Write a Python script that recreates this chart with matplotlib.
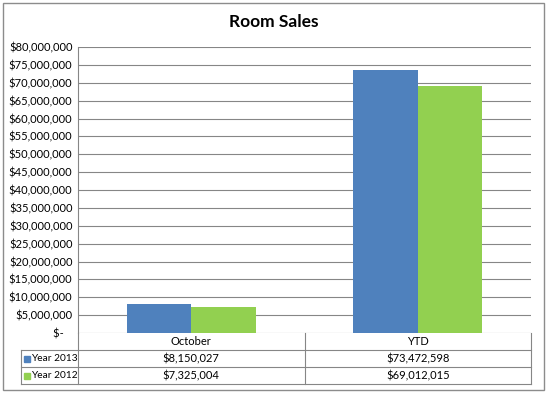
import numpy as np
import matplotlib
matplotlib.use('Agg')
import matplotlib.pyplot as plt
from matplotlib.patches import Rectangle
from matplotlib.lines import Line2D
from matplotlib.ticker import FuncFormatter

plt.rcParams['font.family'] = ['Lato', 'DejaVu Sans']

categories = ['October', 'YTD']
series_names = ['Year 2013', 'Year 2012']
year_2013 = [8150027, 73472598]
year_2012 = [7325004, 69012015]
colors = ['#4F81BD', '#92D050']
grid_col = '#868686'

fig = plt.figure(figsize=(5.48, 3.93), dpi=100)
ax = fig.add_axes([78 / 548, 1 - 333 / 393, 453 / 548, 286 / 393])

x = np.arange(len(categories))
w = 0.285
ax.bar(x - w / 2, year_2013, w, color=colors[0], zorder=3)
ax.bar(x + w / 2, year_2012, w, color=colors[1], zorder=3)

ax.set_xlim(-0.5, len(categories) - 0.5)
ax.set_ylim(0, 80e6)
ax.set_yticks(np.arange(0, 80e6 + 1, 5e6))
ax.yaxis.set_major_formatter(
    FuncFormatter(lambda v, p: '$-   ' if v == 0 else f'${v:,.0f}'))
ax.grid(axis='y', color=grid_col, lw=0.8)
ax.set_axisbelow(True)
for s in ['top', 'right', 'bottom']:
    ax.spines[s].set_visible(False)
ax.spines['left'].set_color(grid_col)
ax.spines['left'].set_linewidth(0.8)
ax.set_xticks([])
ax.tick_params(axis='y', length=0, pad=4, labelsize=8)

# data table under the plot
rh = 17 / 286
x0 = (21 - 78) / 453
lkw = dict(color=grid_col, lw=0.8, transform=ax.transAxes, clip_on=False)
for k in range(1, 4):
    ax.add_line(Line2D([x0, 1], [-k * rh, -k * rh], **lkw))
ax.add_line(Line2D([x0, x0], [-rh, -3 * rh], **lkw))
for xv in [0, 0.5, 1]:
    ax.add_line(Line2D([xv, xv], [0, -3 * rh], **lkw))

xt = ax.get_xaxis_transform()
series = [year_2013, year_2012]
for i, cat in enumerate(categories):
    ax.text(i, -0.5 * rh, cat, transform=xt, ha='center', va='center', fontsize=8)
    for r, vals in enumerate(series):
        ax.text(i, -(r + 1.5) * rh, f'${vals[i]:,.0f}', transform=xt,
                ha='center', va='center', fontsize=8)

for r, name in enumerate(series_names):
    yc = -(r + 1.5) * rh
    ax.add_patch(Rectangle(((24 - 78) / 453, yc - 3 / 286), 6 / 453, 6 / 286,
                           transform=ax.transAxes, color=colors[r], clip_on=False))
    ax.text((31 - 78) / 453, yc, name, transform=ax.transAxes,
            ha='left', va='center', fontsize=7.3)

fig.text(0.5, 1 - 22 / 393, 'Room Sales', ha='center', va='center',
         fontsize=12.5, fontweight='bold')

fig.add_artist(Rectangle((3 / 548, 3 / 393), 541 / 548, 387 / 393,
                         transform=fig.transFigure, fill=False, ec='#8c8c8c', lw=1))

fig.savefig('out.png', dpi=100)
